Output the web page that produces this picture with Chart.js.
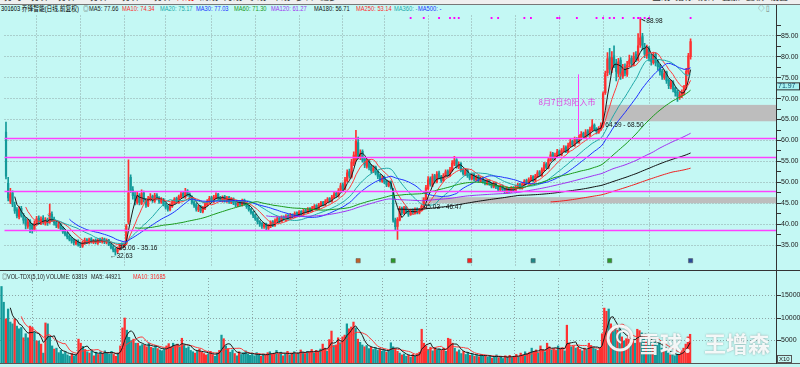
<!DOCTYPE html>
<html>
<head>
<meta charset="utf-8">
<script src="https://cdn.jsdelivr.net/npm/chart.js@4.4.1/dist/chart.umd.min.js"></script>
<style>
html, body { margin: 0; padding: 0; }
body { width: 800px; height: 367px; background: #c4f8f4; position: relative; overflow: hidden;
       font-family: "Liberation Sans", "Noto Sans CJK SC", sans-serif; }
.abs { position: absolute; white-space: nowrap; }
#bar { left: 0; top: 0; width: 800px; height: 4px; background: #efefef; border-bottom: 1px solid #777; overflow: hidden; }
#bar span { position: absolute; top: -8px; font-size: 9px; line-height: 10px; color: #333; }
.lg, .vl { font-size: 7px; line-height: 7px; transform: scaleX(0.82); transform-origin: 0 0; }
.vl { transform: scaleX(0.78); }
.lg { top: 5px; }
.vl { top: 273px; }
canvas { position: absolute; left: 0; }
</style>
</head>
<body>
<div id="bar" class="abs">
  <span style="left:4px">分时</span><span style="left:26px">1分钟</span><span style="left:53px">5分钟</span>
  <span style="left:80px">15分钟</span><span style="left:112px">30分钟</span><span style="left:144px">60分钟</span>
  <span style="left:176px;color:#e00">日线</span><span style="left:200px">周线</span><span style="left:224px">月线</span>
  <span style="left:248px">季线</span><span style="left:272px">年线</span><span style="left:296px">多日</span>
  <span style="left:320px">更多</span>
  <span style="left:652px">画线</span><span style="left:675px">指标</span><span style="left:698px">统计</span>
  <span style="left:722px">叠加</span><span style="left:746px">复权</span><span style="left:770px">设置</span>
</div>

<div class="abs lg" style="left:1px;color:#000">301603 乔锋智能(日线,前复权)</div>
<div class="abs lg" style="left:83px;color:#555">◎</div>
<div class="abs lg" style="left:89px;color:#222">MA5: 77.66</div>
<div class="abs lg" style="left:122px;color:#ff2a2a">MA10: 74.34</div>
<div class="abs lg" style="left:160px;color:#20a8a8">MA20: 75.17</div>
<div class="abs lg" style="left:196px;color:#2030ff">MA30: 77.03</div>
<div class="abs lg" style="left:234px;color:#1a9a1a">MA60: 71.30</div>
<div class="abs lg" style="left:271px;color:#a030f0">MA120: 61.27</div>
<div class="abs lg" style="left:314px;color:#111">MA180: 56.71</div>
<div class="abs lg" style="left:356px;color:#ff2a2a">MA250: 53.14</div>
<div class="abs lg" style="left:394px;color:#20a8a8">MA360: -</div>
<div class="abs lg" style="left:418px;color:#2030ff">MA500: -</div>
<div class="abs lg" style="left:758px;color:#777;font-size:8px">◇ ▯</div>

<canvas id="pc" width="800" height="259" style="top:11px"></canvas>
<canvas id="vc" width="800" height="92" style="top:271px"></canvas>

<div class="abs" style="left:0;top:270px;width:800px;height:1px;background:#333"></div>
<div class="abs" style="left:0;top:363px;width:800px;height:1px;background:#555"></div>
<div class="abs" style="left:776px;top:5px;width:1px;height:359px;background:#333"></div>

<div class="abs vl" style="left:2px;color:#555">◎</div>
<div class="abs vl" style="left:7px;color:#222">VOL-TDX(5,10)</div>
<div class="abs vl" style="left:46px;color:#222">VOLUME: 63819</div>
<div class="abs vl" style="left:91px;color:#222">MA5: 44921</div>
<div class="abs vl" style="left:133px;color:#ff2a2a">MA10: 31685</div>
<div class="abs" style="left:777px;top:355px;font-size:6px;line-height:6px;border:1px solid #555;padding:0 1px;color:#222">X10</div>

<script>
// daily candles (IPO day first)
const opens = [
  62.0,49.8,45.5,47.5,44.6,43.5,41.8,43.8,42.0,41.2,39.5,40.8,39.8,38.8,40.0,41.5,40.2,41.5,40.3,41.2,
  40.5,42.4,41.2,40.5,39.3,40.0,39.0,38.4,37.8,37.1,36.6,36.2,35.4,36.0,35.4,34.8,35.5,36.3,35.6,36.5,
  35.7,36.2,35.5,36.4,35.8,36.5,35.6,36.2,35.3,34.6,34.0,33.5,34.2,35.3,34.8,35.4,40.5,51.2,48.2,47.0,
  45.2,46.9,45.0,47.5,45.9,44.5,46.0,46.7,45.5,47.0,46.3,45.3,46.0,44.9,44.2,43.5,44.3,45.1,46.2,45.2,
  46.5,47.4,46.5,48.0,47.2,46.5,45.3,44.7,43.4,44.3,43.0,43.8,44.6,45.3,46.4,45.4,46.3,47.2,46.5,45.6,
  46.6,45.5,46.5,45.2,46.1,45.0,44.5,45.5,44.6,45.8,45.0,44.3,43.6,42.9,42.2,41.4,40.7,40.2,39.4,40.1,
  39.0,39.5,40.6,39.7,40.8,41.5,40.7,41.8,41.0,42.1,41.4,42.3,41.7,42.8,42.1,43.1,42.4,43.4,42.8,43.8,
  43.2,43.7,44.5,43.7,44.5,45.3,44.6,45.3,46.2,45.5,46.4,47.4,46.7,47.9,49.5,48.4,50.4,52.6,51.3,54.5,
  55.5,59.5,56.0,57.4,55.6,53.8,55.2,53.9,52.6,53.7,52.5,51.6,50.3,51.2,50.3,49.2,50.2,48.3,41.0,39.5,
  41.0,43.8,42.6,44.1,43.1,42.3,43.4,42.6,43.7,42.7,43.3,44.2,45.9,48.5,50.9,49.3,51.6,50.1,52.3,51.4,
  50.4,51.4,52.7,51.6,52.8,54.4,55.4,53.6,54.5,53.0,51.9,53.0,51.8,50.8,51.9,50.6,51.5,50.2,51.1,50.3,
  49.6,50.5,49.8,48.9,49.9,49.0,48.2,49.2,48.5,47.6,48.6,47.8,48.8,48.0,48.7,49.6,48.6,49.4,50.5,49.7,
  50.5,51.4,50.4,51.3,52.5,51.6,52.8,54.4,53.4,55.2,56.9,55.6,56.2,57.5,56.5,57.4,58.4,57.3,58.6,59.8,
  58.8,60.4,59.5,60.6,61.7,60.7,62.3,61.2,62.4,63.7,62.9,61.9,62.6,63.4,71.4,76.2,79.8,76.8,80.2,78.5,
  76.0,79.2,75.3,77.6,75.8,78.2,79.6,78.2,80.5,79.3,82.8,84.8,82.5,80.3,82.0,79.5,78.6,80.6,78.9,77.8,
  76.6,75.0,76.4,74.5,72.8,74.0,72.5,71.6,70.3,70.7,71.3,72.6,76.3,80.0
];
const highs = [
  64.4,51.2,48.6,48.0,45.3,44.0,44.2,44.3,42.6,41.6,41.2,41.1,40.2,40.8,41.9,42.0,41.8,42.1,41.6,41.5,
  44.8,43.0,41.7,40.9,40.5,40.3,39.4,38.8,38.1,37.5,36.9,36.5,36.3,36.3,35.7,36.0,36.7,36.6,36.7,36.8,
  36.4,36.5,36.6,36.7,36.8,36.7,36.5,36.4,35.5,34.9,34.3,34.6,35.4,35.6,35.6,40.0,55.4,51.8,49.0,47.6,
  47.8,47.3,48.2,47.9,46.2,46.7,47.3,47.0,47.4,47.3,46.6,46.4,46.2,45.2,44.5,44.9,45.7,46.4,46.5,47.0,
  47.8,47.8,48.6,48.3,47.5,46.8,45.6,45.0,44.6,44.5,44.3,45.2,45.9,46.7,46.7,46.9,47.5,47.4,46.7,46.8,
  46.9,46.7,46.7,46.4,46.3,45.3,45.7,45.7,46.0,46.0,45.2,44.5,43.8,43.1,42.4,41.6,40.9,40.4,40.3,40.3,
  40.0,40.8,40.9,41.3,41.8,41.7,42.0,42.0,42.3,42.3,42.6,42.5,43.0,43.0,43.3,43.3,43.6,43.7,44.0,44.0,
  44.3,44.7,44.7,45.0,45.5,45.5,45.9,46.4,46.4,46.9,47.7,47.6,48.5,49.8,49.9,51.2,53.0,53.2,55.5,57.3,
  62.4,60.8,57.8,57.8,56.0,55.6,55.5,54.3,54.0,53.9,52.8,51.9,51.6,51.5,50.6,50.4,50.4,48.6,41.5,41.6,
  44.2,44.1,44.3,44.3,43.4,43.6,43.7,43.9,43.9,43.8,44.7,46.3,49.3,51.4,51.3,52.0,51.9,52.6,52.7,51.7,
  52.1,53.0,53.0,53.6,55.2,56.2,55.7,54.9,54.7,53.3,53.2,53.2,52.0,52.1,52.1,51.7,51.7,51.3,51.3,50.6,
  50.7,50.7,50.0,50.1,50.1,49.2,49.4,49.4,48.7,48.8,48.8,49.0,49.0,49.3,49.8,49.8,50.0,50.7,50.8,51.1,
  51.7,51.6,51.9,52.8,52.8,53.5,54.8,54.7,56.0,57.3,57.2,57.0,57.9,57.8,58.1,58.8,58.7,59.4,60.3,60.1,
  60.8,60.7,61.4,62.1,62.0,62.6,62.6,63.2,65.0,64.0,63.1,63.3,64.2,71.6,76.6,81.0,82.0,81.2,82.6,79.4,
  79.6,79.8,78.2,78.3,78.9,80.4,80.2,81.0,81.2,85.5,88.98,85.6,83.2,82.8,82.4,80.6,81.0,81.0,79.4,78.2,
  77.0,76.8,76.6,74.8,74.4,74.3,72.8,72.0,71.6,72.1,73.2,77.2,80.8,84.3
];
const lows = [
  50.8,45.6,44.9,44.2,42.6,41.5,41.3,41.7,40.2,38.9,39.0,38.0,37.9,38.4,39.7,40.0,39.9,40.0,39.8,39.7,
  40.2,40.6,39.8,39.2,39.0,38.5,37.8,37.2,36.5,36.0,35.5,35.1,35.1,34.8,34.4,34.5,35.2,35.4,35.3,35.5,
  35.4,35.3,35.2,35.6,35.5,35.4,35.3,34.9,34.1,33.4,32.63,33.1,33.9,34.6,34.5,35.1,40.0,47.6,46.0,44.6,
  44.8,44.6,44.7,45.3,44.0,44.2,45.6,45.2,45.2,45.8,45.0,45.0,44.4,43.6,43.1,43.2,44.0,44.8,45.0,45.0,
  46.2,46.3,46.2,46.7,46.0,44.8,44.0,43.1,43.0,42.8,42.7,43.5,44.3,45.0,45.2,45.1,46.0,45.9,45.4,45.3,
  45.3,45.2,45.0,44.9,44.7,44.2,44.2,44.4,44.3,44.5,43.8,43.1,42.4,41.6,40.9,40.1,39.5,39.0,39.0,38.6,
  38.6,39.2,39.4,39.5,40.5,40.4,40.5,40.9,40.8,41.2,41.2,41.5,41.5,42.0,41.9,42.2,42.2,42.7,42.6,43.0,
  43.0,43.5,43.5,43.5,44.3,44.4,44.4,45.1,45.3,45.3,46.2,46.4,46.5,47.7,48.0,48.2,50.1,51.0,51.0,54.0,
  55.0,55.6,55.4,54.8,53.5,53.4,53.0,52.2,52.3,51.8,50.9,50.2,50.0,49.7,49.0,48.9,48.4,40.5,38.6,36.4,
  40.8,42.3,42.4,42.6,41.9,42.1,42.4,42.4,42.5,42.5,43.1,44.0,45.7,48.2,49.1,49.0,49.8,49.9,50.8,50.0,
  50.2,51.2,51.4,51.4,52.6,54.0,53.4,53.3,52.5,51.7,51.6,51.2,50.6,50.6,50.4,50.4,50.0,50.0,49.8,49.4,
  49.4,49.3,48.7,48.7,48.5,48.0,48.0,47.9,47.3,47.4,47.5,47.6,47.9,47.8,48.5,48.4,48.4,49.2,49.6,49.5,
  50.3,50.2,50.2,51.1,51.4,51.4,52.6,53.2,53.2,55.0,55.3,55.3,56.0,56.3,56.3,57.2,57.1,57.1,58.4,58.6,
  58.6,59.3,59.3,60.4,60.5,60.5,61.0,61.0,62.2,62.3,61.6,61.7,62.4,63.2,71.0,75.4,75.8,76.2,77.4,74.2,
  75.2,74.6,74.8,75.4,75.3,77.6,77.5,77.8,78.8,79.0,82.2,81.6,79.8,79.6,79.0,78.0,78.2,77.8,76.8,75.6,
  74.6,74.6,73.6,72.4,72.3,71.6,70.6,69.3,69.8,70.2,70.9,72.2,75.8,79.4
];
const closes = [
  51.5,46.3,47.2,44.8,43.2,42.0,43.5,42.1,41.0,39.8,40.5,39.6,38.9,40.2,41.3,40.5,41.2,40.4,41.0,40.3,
  42.6,41.0,40.3,39.7,39.9,38.9,38.2,37.6,37.0,36.4,36.0,35.6,35.9,35.2,34.9,35.6,36.1,35.8,36.3,35.9,
  36.0,35.7,36.2,35.9,36.4,35.8,36.1,35.2,34.5,33.9,33.4,34.2,35.1,35.0,35.2,39.6,47.5,48.0,46.8,45.5,
  46.8,45.2,47.3,45.8,44.6,46.1,46.5,45.7,46.9,46.2,45.5,45.9,44.8,44.1,43.6,44.5,45.3,46.0,45.4,46.6,
  47.2,46.7,47.8,47.1,46.4,45.2,44.5,43.6,44.1,43.2,43.9,44.8,45.5,46.2,45.6,46.5,47.0,46.3,45.8,46.4,
  45.7,46.3,45.4,46.0,45.1,44.6,45.3,44.8,45.6,44.9,44.2,43.5,42.8,42.1,41.3,40.6,40.0,39.6,39.9,39.3,
  39.6,40.4,39.8,40.9,41.3,40.8,41.6,41.2,41.9,41.5,42.2,41.8,42.6,42.3,42.9,42.5,43.2,43.0,43.6,43.3,
  43.9,44.3,43.8,44.6,45.1,44.7,45.5,46.0,45.6,46.5,47.2,46.8,48.0,49.2,48.5,50.6,52.3,51.5,54.8,56.5,
  59.8,56.2,57.0,55.3,54.1,55.0,53.6,52.8,53.5,52.2,51.4,50.6,51.0,50.1,49.4,49.9,48.8,41.0,39.4,41.2,
  43.6,42.8,43.9,43.0,42.4,43.2,42.8,43.5,42.9,43.4,44.3,45.8,48.7,50.6,49.6,51.4,50.3,52.0,51.2,50.5,
  51.6,52.5,51.8,53.0,54.6,55.2,53.8,54.3,52.9,52.1,52.8,51.6,51.0,51.7,50.8,51.3,50.4,50.9,50.2,49.8,
  50.3,49.6,49.1,49.7,48.9,48.4,49.0,48.3,47.8,48.4,47.9,48.6,48.2,48.9,49.4,48.8,49.6,50.3,49.9,50.7,
  51.2,50.6,51.5,52.3,51.8,53.0,54.2,53.6,55.4,56.6,55.8,56.4,57.3,56.7,57.6,58.2,57.5,58.8,59.6,59.0,
  60.2,59.7,60.8,61.5,60.9,62.0,61.4,62.6,63.5,62.7,62.1,62.8,63.6,71.2,76.0,79.5,77.0,79.8,78.2,76.5,
  78.8,75.6,77.3,76.1,78.0,79.2,78.4,80.1,79.5,82.6,84.5,82.7,80.6,81.8,79.7,78.9,80.2,78.5,77.6,76.4,
  75.3,76.0,74.2,73.1,73.8,72.2,71.4,70.6,70.9,71.5,72.8,76.5,80.2,83.6
];
// volume in axis units (x10)
const volumes = [
  17000,13500,9800,12000,9100,8700,9800,8200,7600,7900,5600,6500,5600,8200,7900,6800,4900,4900,4200,2200,
  8900,8700,5800,3800,3100,3300,2300,2800,2000,2500,1800,1500,2100,1600,1800,5300,4400,3700,3000,2500,
  2200,2700,1600,2400,1900,2500,2100,2700,2300,2000,2600,1900,1500,2200,3800,7800,10000,7300,5700,5000,
  5300,4400,4400,3800,4100,4000,3600,4400,3500,3300,3900,3200,2900,2700,3100,3800,4300,3600,4400,3900,
  4200,3500,5500,4000,3300,3600,2800,2500,2200,2700,3100,2400,2100,1800,2000,2600,1900,1500,2200,2800,
  6200,5400,3800,3200,2400,2900,2100,1600,2500,1900,2300,2700,2000,1700,2100,1600,2300,1800,1500,2000,
  1700,2300,2500,1900,2200,2800,2000,2400,1600,2100,2600,1800,2200,2500,2000,2300,2900,2400,2100,2600,
  2500,3000,2200,2800,2500,3100,4200,3300,2600,5200,7100,3900,4000,5600,4500,5800,6200,8700,7600,8000,
  9100,7800,5300,4600,4000,3600,3900,3200,3500,3000,3400,2800,3100,2600,2900,2400,2800,4500,3600,3200,
  2600,2200,1800,2000,1500,1700,1300,1900,1500,2100,2400,7500,4400,3800,3000,3500,2700,3300,2900,3100,
  2800,3300,2600,5500,5300,4400,3300,2500,2900,2100,2600,1900,2300,1700,2000,1500,1800,1400,1900,1600,
  1700,1300,1600,1100,1500,1800,1200,1400,1000,1600,1300,1700,1200,1500,1900,1400,2200,1800,2500,2100,
  2400,3300,2600,2900,2200,3800,3000,2500,4400,3600,2900,3200,2800,3800,3100,3400,2700,8400,4400,3600,
  3800,3300,3500,3000,2700,3300,2900,4400,3900,3500,3100,2800,3300,6500,12200,11500,12000,8700,7000,7800,
  7300,7600,5800,4900,5400,6200,4600,5200,4400,7500,7200,6700,5800,4900,5500,4600,4200,5000,3900,4400,
  3300,2600,2900,2200,1800,2100,1600,1900,1850,2800,3300,4200,5800,6380
];

const maPeriods = [5, 10, 20, 30, 60, 120, 180, 250];
const maColors = ['#1a1a1a', '#ff3a3a', '#20a8a8', '#2030ff', '#1a9a1a', '#a030f0', '#111111', '#ee2222'];
const priceTicks = [35, 40, 45, 50, 55, 60, 65, 70, 75, 80, 85];
const volTicks = [5000, 10000, 15000];
const monthStarts = [14, 34, 54, 73, 94, 114, 134, 154, 173, 193, 213, 233, 253, 273, 294];
const supportLines = [60.6, 56.0, 47.9, 38.7];
const gapLows = [64.59, 45.03];
const gapHighs = [68.50, 46.47];
const gapFrom = [274, 190];
const signalDays = [185, 191, 198, 203, 205, 207, 222, 225, 237, 240, 252, 253, 261, 270, 273, 276, 278, 282, 287, 289, 290, 292, 294, 313];
const eventDays = [161, 177, 212, 241, 276, 313];
const eventColors = ['#c0602a', '#2a9a2a', '#ff2020', '#208888', '#2a9a2a', '#2a4a9a'];

const UP = '#ff3030', DN = '#139a9a';
const colorOf = closes.map((c, i) => (c >= opens[i] ? UP : DN));
const days = closes.map((_, i) => i);

function movingAvg(src, n) {
  return src.map((_, i) => {
    if (i < n - 1) return null;
    let s = 0;
    for (let k = i - n + 1; k <= i; k++) s += src[k];
    return s / n;
  });
}

// axis helpers: keep the plot area flush with the canvas edges
function flatX(s) { s.height = 0; s.paddingLeft = 0; s.paddingRight = 0; s.paddingTop = 0; s.paddingBottom = 0; }
function rightY(s) { s.width = 24; s.paddingTop = 0; s.paddingBottom = 0; s.paddingLeft = 0; s.paddingRight = 0; }

const xAxis = {
  type: 'linear', min: -0.68, max: 352.05, offset: false,
  ticks: { display: false },
  grid: { color: '#8ea6a6', drawTicks: false, offset: false },
  border: { display: false, dash: [1, 2] },
  afterBuildTicks: s => { s.ticks = monthStarts.map(v => ({ value: v })); },
  afterFit: flatX
};
const tickFont = { family: 'Liberation Sans', size: 7, lineHeight: 0.01 };

const priceOverlay = {
  id: 'priceOverlay',
  beforeDatasetsDraw(chart) {
    const { ctx, chartArea: a, scales: { x, y } } = chart;
    ctx.save();
    ctx.fillStyle = '#bdbdbd';
    gapLows.forEach((lo, k) => {
      const x0 = x.getPixelForValue(gapFrom[k]);
      const y0 = y.getPixelForValue(gapHighs[k]);
      ctx.fillRect(x0, y0, a.right - x0, y.getPixelForValue(lo) - y0);
    });
    ctx.restore();
  },
  afterDatasetsDraw(chart) {
    const { ctx, chartArea: a, scales: { x, y } } = chart;
    ctx.save();
    ctx.strokeStyle = '#ff40ff';
    ctx.lineWidth = 1.5;
    supportLines.forEach(v => {
      const py = Math.round(y.getPixelForValue(v)) + 0.5;
      ctx.beginPath(); ctx.moveTo(a.left, py); ctx.lineTo(a.right, py); ctx.stroke();
    });
    ctx.lineWidth = 1;
    const nx = Math.round(x.getPixelForValue(261.5)) + 0.5;
    ctx.beginPath(); ctx.moveTo(nx, y.getPixelForValue(75.8)); ctx.lineTo(nx, y.getPixelForValue(61.3)); ctx.stroke();
    ctx.fillStyle = '#e040e0';
    ctx.font = '8px "Noto Sans CJK SC"';
    ctx.textBaseline = 'middle';
    ctx.fillText('8月7日均阳入市', x.getPixelForValue(243.5), y.getPixelForValue(69.2));

    ctx.fillStyle = '#111';
    ctx.font = '6.5px "Liberation Sans"';
    ctx.fillText('64.59 - 68.50', x.getPixelForValue(274), y.getPixelForValue(63.6));
    ctx.fillText('45.03 - 46.47', x.getPixelForValue(191), y.getPixelForValue(44.0));
    ctx.fillText('35.06 - 35.16', x.getPixelForValue(51.7), y.getPixelForValue(34.3));
    ctx.fillText('←32.63', x.getPixelForValue(47.5), y.getPixelForValue(32.45));
    const hx = x.getPixelForValue(290), hy = y.getPixelForValue(88.98);
    ctx.strokeStyle = '#111';
    ctx.beginPath(); ctx.moveTo(hx + 1, hy); ctx.lineTo(hx + 5, hy + 2); ctx.stroke();
    ctx.fillText('88.98', hx + 6, hy + 2);
    ctx.restore();
  },
  afterDraw(chart) {
    const { ctx, scales: { y } } = chart;
    const py = y.getPixelForValue(71.97);
    ctx.save();
    ctx.fillStyle = '#a6f2f2';
    ctx.fillRect(776, py - 7, 23, 7);
    ctx.strokeStyle = '#333';
    ctx.lineWidth = 1;
    ctx.strokeRect(776.5, py - 7.5, 23, 7);
    ctx.fillStyle = '#0a4a6a';
    ctx.font = '7px "Liberation Sans"';
    ctx.textBaseline = 'middle';
    ctx.fillText('71.97', 778, py - 3.8);
    ctx.restore();
  }
};

const priceSets = [
  {
    type: 'bar', label: 'wick', order: 20, grouped: false, barThickness: 1,
    data: days.map(i => ({ x: i, y: [lows[i], highs[i]] })),
    backgroundColor: colorOf, borderWidth: 0, borderSkipped: false
  },
  {
    type: 'bar', label: 'body', order: 19, grouped: false, barThickness: 1.6, minBarLength: 0.8,
    data: days.map(i => ({ x: i, y: [opens[i], closes[i]] })),
    backgroundColor: colorOf, borderWidth: 0, borderSkipped: false
  }
];
maPeriods.forEach((n, k) => {
  const m = movingAvg(closes, n);
  priceSets.push({
    type: 'line', label: 'MA' + n, order: 10 - k,
    data: days.map(i => ({ x: i, y: m[i] })),
    borderColor: maColors[k], borderWidth: 1, pointRadius: 0, fill: false
  });
});
priceSets.push({
  type: 'scatter', label: 'signal', order: 0,
  data: signalDays.map(i => ({ x: i, y: 89.25 })),
  pointStyle: 'rect', pointRadius: 1.3, backgroundColor: '#ff00ff', borderWidth: 0
});
priceSets.push({
  type: 'scatter', label: 'event', order: 0,
  data: eventDays.map(i => ({ x: i, y: 31.3 })),
  pointStyle: 'rect', pointRadius: 3, backgroundColor: eventColors, borderColor: '#555', borderWidth: 0.5
});

new Chart(document.getElementById('pc'), {
  type: 'bar',
  data: { datasets: priceSets },
  options: {
    responsive: false, animation: false, devicePixelRatio: 1, events: [],
    layout: { padding: 0 },
    plugins: { legend: { display: false }, tooltip: { enabled: false } },
    scales: {
      x: xAxis,
      y: {
        position: 'right', min: 30.16, max: 89.84,
        afterBuildTicks: s => {
          const t = [];
          priceTicks.forEach(v => { t.push({ value: v }); t.push({ value: v + 2.5 }); });
          s.ticks = t;
        },
        afterFit: rightY,
        ticks: {
          font: tickFont, color: '#222', padding: 0,
          callback: v => (v % 5 === 0 ? v.toFixed(2) : '')
        },
        grid: {
          color: c => (c.tick && c.tick.value % 5 === 0 ? '#8ea6a6' : 'rgba(0,0,0,0)'),
          tickColor: '#333', tickLength: 5
        },
        border: { display: false, dash: [1, 2] }
      }
    }
  },
  plugins: [priceOverlay]
});

const vma5 = movingAvg(volumes, 5), vma10 = movingAvg(volumes, 10);
const watermark = {
  id: 'watermark',
  afterDatasetsDraw(chart) {
    const { ctx } = chart;
    ctx.save();
    ctx.globalAlpha = 0.9;
    ctx.shadowColor = 'rgba(90,90,90,0.6)';
    ctx.shadowBlur = 2;
    ctx.strokeStyle = '#ffffff';
    ctx.lineWidth = 3;
    ctx.beginPath(); ctx.arc(620, 67, 12, 0, Math.PI * 2); ctx.stroke();
    ctx.lineWidth = 2;
    ctx.beginPath(); ctx.arc(623, 66, 6, Math.PI * 0.6, Math.PI * 2.1); ctx.stroke();
    ctx.fillStyle = '#ffffff';
    ctx.font = 'bold 22px "Noto Sans CJK SC"';
    ctx.textBaseline = 'alphabetic';
    ctx.fillText('雪球：王增森', 638, 81);
    ctx.restore();
  }
};

new Chart(document.getElementById('vc'), {
  type: 'bar',
  data: {
    datasets: [
      {
        type: 'bar', label: 'VOLUME', order: 5, barThickness: 1.6,
        data: days.map(i => ({ x: i, y: volumes[i] })),
        backgroundColor: colorOf, borderWidth: 0
      },
      {
        type: 'line', label: 'MA5', order: 1,
        data: days.map(i => ({ x: i, y: vma5[i] })),
        borderColor: '#1a1a1a', borderWidth: 1, pointRadius: 0
      },
      {
        type: 'line', label: 'MA10', order: 2,
        data: days.map(i => ({ x: i, y: vma10[i] })),
        borderColor: '#ff3a3a', borderWidth: 1, pointRadius: 0
      }
    ]
  },
  options: {
    responsive: false, animation: false, devicePixelRatio: 1, events: [],
    layout: { padding: { top: 7 } },
    plugins: { legend: { display: false }, tooltip: { enabled: false } },
    scales: {
      x: xAxis,
      y: {
        position: 'right', min: 0, max: 18889,
        afterBuildTicks: s => { s.ticks = volTicks.map(v => ({ value: v })); },
        afterFit: rightY,
        ticks: { font: tickFont, color: '#222', padding: 0, callback: v => String(v) },
        grid: { color: '#8ea6a6', tickColor: '#333', tickLength: 5 },
        border: { display: false, dash: [1, 2] }
      }
    }
  },
  plugins: [watermark]
});
</script>
</body>
</html>
